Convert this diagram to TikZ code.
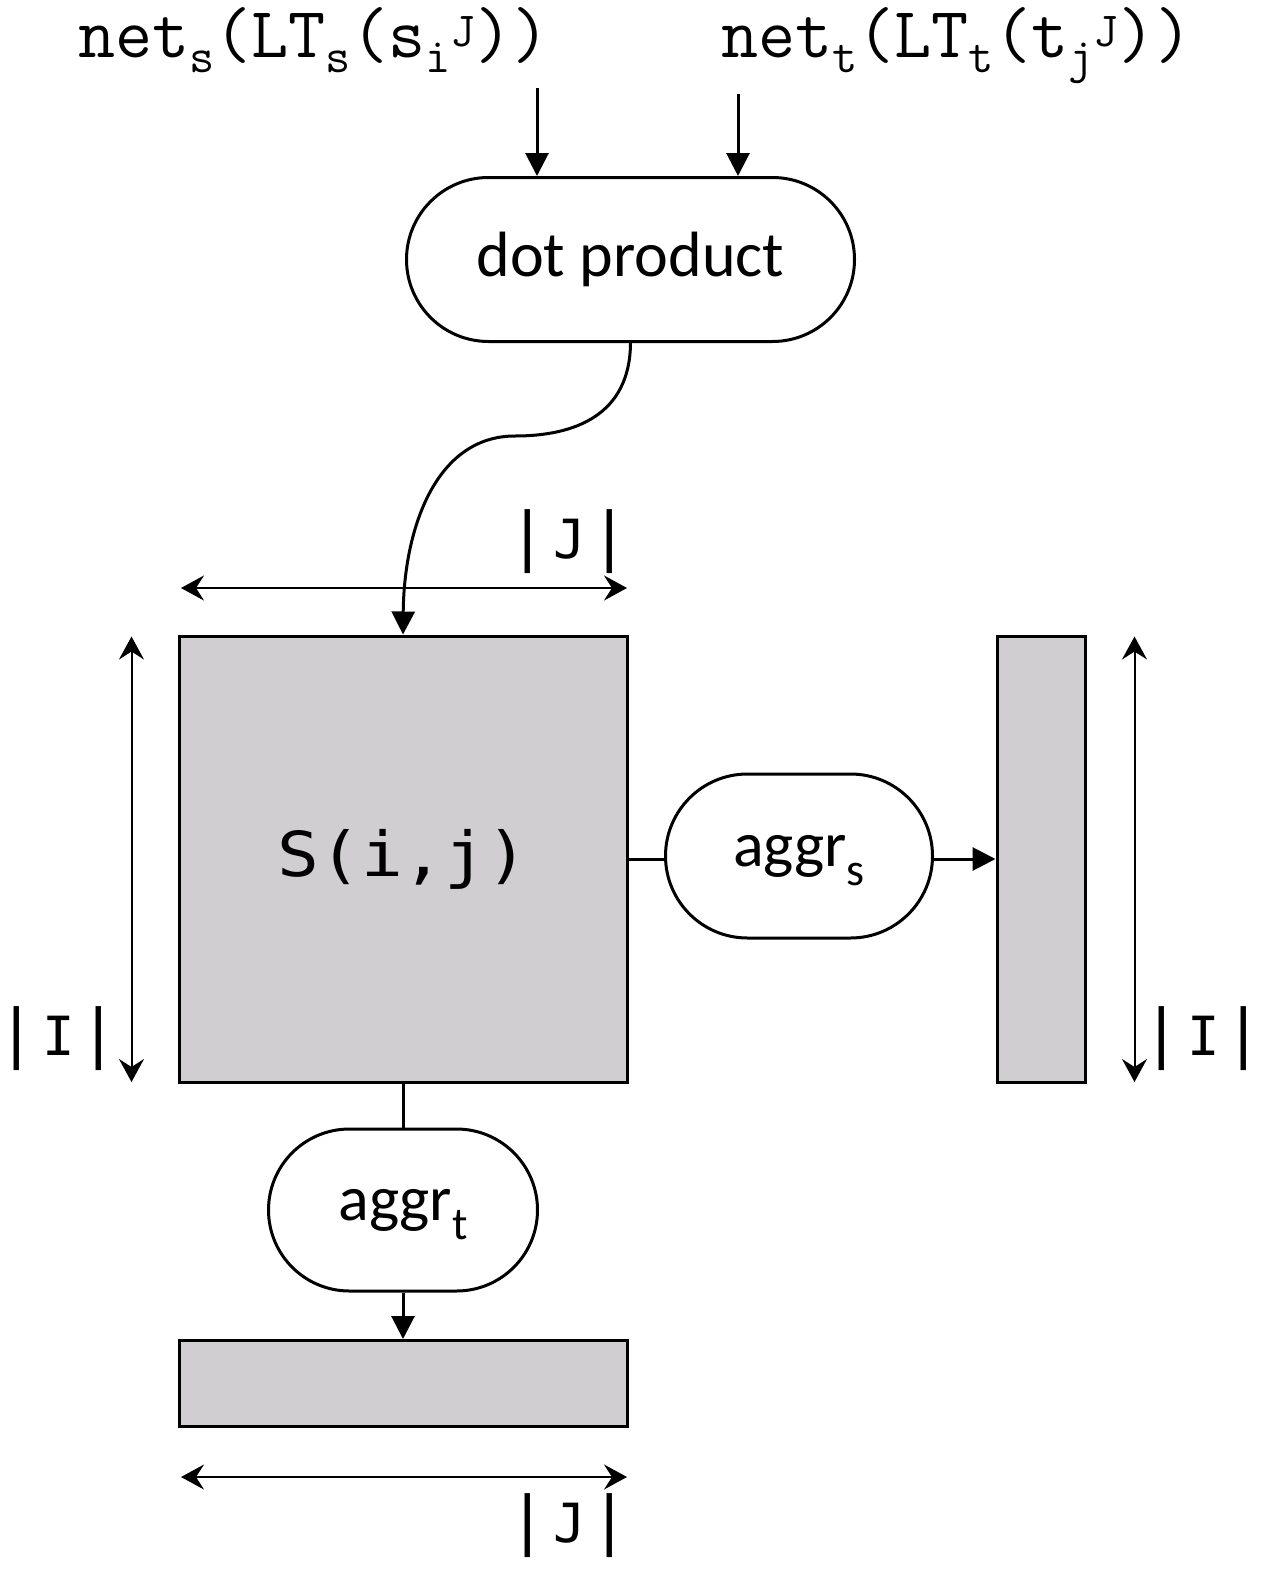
\documentclass[tikz,border=0pt]{standalone}
\usepackage{fontspec}
\setmainfont{Carlito}
\newfontfamily\dmono{DejaVu Sans Mono}
\usetikzlibrary{arrows.meta,shapes.misc}
\definecolor{boxgrey}{RGB}{208,206,208}
\newcommand\mysub[1]{\raisebox{-15pt}{\fontsize{49}{49}\selectfont #1}}
\newcommand\mysup[1]{\raisebox{11pt}{\fontsize{49}{49}\selectfont #1}}
\newcommand\pillsub[1]{\raisebox{-19pt}[0pt][0pt]{\fontsize{46}{46}\selectfont #1}}
\newcommand\barlab[1]{{\fontsize{64}{70}\selectfont|}\kern6pt{\fontsize{54}{54}\selectfont #1}\kern5pt{\fontsize{64}{70}\selectfont|}}
\begin{document}
\begin{tikzpicture}[x=1pt,y=-1pt,
  pill/.style={rounded rectangle, draw, line width=3pt, fill=white, inner sep=0pt,
    minimum height=164pt, font=\fontsize{64}{70}\selectfont},
  greybox/.style={rectangle, draw, line width=3pt, fill=boxgrey, inner sep=0pt},
  flow/.style={line width=3pt, -{Triangle[length=23pt,width=23pt]}},
  plain/.style={line width=3pt},
  dim/.style={line width=2pt, {Stealth[length=23pt,width=25pt,inset=8pt]}-{Stealth[length=23pt,width=25pt,inset=8pt]}},
  dimlab/.style={inner sep=0pt, font=\dmono},
  toplab/.style={inner sep=0pt, anchor=base, font=\ttfamily\fontsize{72}{78}\selectfont}]
\fill[white] (0,0) rectangle (1266,1574);
\useasboundingbox (0,0) rectangle (1266,1574);

% top labels
\node[toplab] (ls) at (314,57) {net\mysub{s}(LT\mysub{s}(s\mysub{i}\mysup{J}))};
\node[toplab] (lt) at (957,57) {net\mysub{t}(LT\mysub{t}(t\mysub{j}\mysup{J}))};

% nodes
\node[pill, minimum width=448pt] (dp) at (630.5,259.5) {\raisebox{-4pt}{dot product}};
\node[greybox, minimum width=448pt, minimum height=446pt] (S) at (403,859)
  {\dmono\fontsize{62}{70}\selectfont\scalebox{1.12}[1]{S(i,j)}};
\node[pill, minimum width=267pt] (aS) at (799,856) {aggr\pillsub{s}};
\node[greybox, minimum width=88pt, minimum height=446pt] (R) at (1041,859) {};
\node[pill, minimum width=269pt, minimum height=162pt] (aT) at (403,1210) {aggr\pillsub{t}};
\node[greybox, minimum width=448pt, minimum height=86pt] (B) at (403,1383.5) {};

% input arrows
\coordinate (ia) at (537,88);
\coordinate (ib) at (738,94);
\draw[flow] (ia) -- (ia |- dp.north);
\draw[flow] (ib) -- (ib |- dp.north);

% curved arrow
\draw[flow] (dp.south) .. controls (630,415) and (575,436) .. (515,436)
  .. controls (435,436) and (404,530) .. (S.north);

% aggregation connectors
\draw[plain] (S.east) -- (S.east -| aS.west);
\draw[flow] (aS.east |- R.west) -- (R.west);
\draw[plain] (S.south) -- (aT.north);
\draw[flow] (aT.south) -- (B.north);

% dimension arrows
\coordinate (jt1) at (181,588);
\coordinate (jt2) at (627,588);
\draw[dim] (jt1) -- (jt2);
\node[dimlab] (Jt) at (569,542) {\barlab{J}};

\coordinate (il1) at (131.5,636.5);
\coordinate (il2) at (131.5,1082);
\draw[dim] (il1) -- (il2);
\node[dimlab] (Il) at (58,1039) {\barlab{I}};

\coordinate (ir1) at (1134.5,636.5);
\coordinate (ir2) at (1134.5,1082);
\draw[dim] (ir1) -- (ir2);
\node[dimlab] (Ir) at (1203,1039) {\barlab{I}};

\coordinate (jb1) at (181,1477);
\coordinate (jb2) at (627,1477);
\draw[dim] (jb1) -- (jb2);
\node[dimlab] (Jb) at (569,1526) {\barlab{J}};
\end{tikzpicture}
\end{document}
